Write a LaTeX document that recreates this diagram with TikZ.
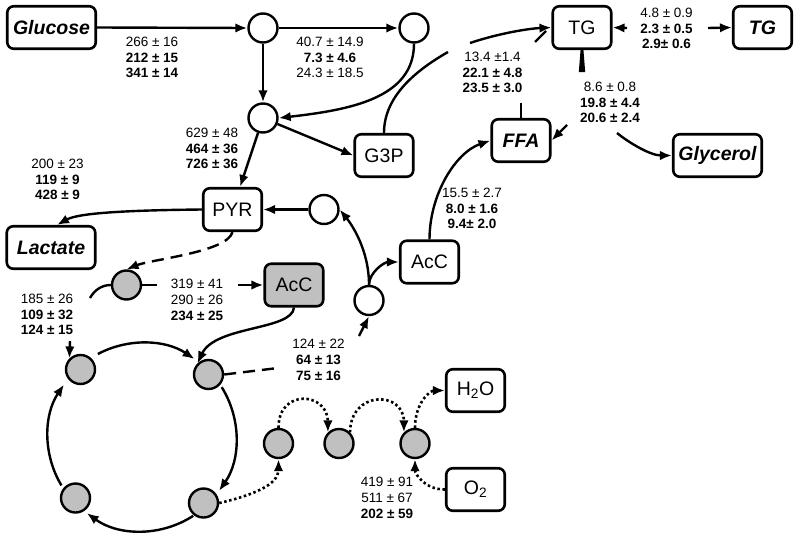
\documentclass[tikz,border=0pt]{standalone}
\usepackage{fontspec}
\setmainfont{Liberation Sans}
\usetikzlibrary{arrows.meta}
\definecolor{grayfill}{RGB}{192,192,192}
\begin{document}
\begin{tikzpicture}[x=1pt,y=1pt,
  box/.style={draw, line width=2.6pt, rounded corners=6.5pt, minimum width=58.5pt, minimum height=42.5pt, inner sep=1pt, font=\fontsize{19.5}{22}\selectfont},
  bigbox/.style={box, minimum width=88.5pt},
  bi/.style={font=\fontsize{19.5}{22}\selectfont\bfseries\itshape},
  circ/.style={circle, draw, line width=2.4pt, minimum size=29pt, inner sep=0pt},
  gcirc/.style={circ, fill=grayfill},
  lbl/.style={align=center, inner sep=0pt, font=\fontsize{13.5}{15.8}\selectfont},
  con/.style={line width=2.4pt, -{Latex[length=12pt,width=9.5pt]}},
  seg/.style={line width=2.4pt},
  dsh/.style={dash pattern=on 12pt off 7pt},
  dtt/.style={line width=2.6pt, dash pattern=on 2.5pt off 2.6pt},
]
\useasboundingbox (0,0) rectangle (800,-538);

% nodes
\node[bigbox,bi] (Glucose) at (51.5,-27.5) {Glucose};
\node[circ] (c1) at (263,-28) {};
\node[circ] (c2) at (414,-28) {};
\node[circ] (c3) at (263,-118) {};
\node[box] (G3P) at (384,-155.5) {G3P};
\node[box] (TG) at (582,-27.5) {TG};
\node[box,bi] (TGb) at (762.5,-27.5) {TG};
\node[box,bi] (FFA) at (521,-140.5) {FFA};
\node[bigbox,bi] (Glycerol) at (717.5,-155.5) {Glycerol};
\node[box] (PYR) at (232.5,-209.5) {PYR};
\node[bigbox,bi] (Lactate) at (51,-247.5) {Lactate};
\node[gcirc] (gA) at (126.5,-285) {};
\node[box,fill=grayfill] (AcCg) at (294,-285) {AcC};
\node[circ] (cE) at (324,-209.5) {};
\node[circ] (cD) at (369,-300.5) {};
\node[box] (AcCw) at (429.5,-262) {AcC};
\node[gcirc] (C1) at (80.5,-369.5) {};
\node[gcirc] (C2) at (208.5,-374.5) {};
\node[gcirc] (C3) at (203.5,-503) {};
\node[gcirc] (C4) at (75.5,-498) {};
\node[gcirc] (F) at (278.5,-443.5) {};
\node[gcirc] (G) at (339,-443.5) {};
\node[gcirc] (H) at (415,-443.5) {};
\node[box] (H2O) at (475.5,-390.5) {H\textsubscript{2}O};
\node[box] (O2) at (475.5,-489.5) {O\textsubscript{2}};

% free ends of broken connectors
\coordinate (O) at (142,-437);
\coordinate (g3pA) at (448,-52);
\coordinate (g3pB) at (470,-43);
\coordinate (ffaA) at (521,-103);
\coordinate (ffaB) at (535,-42);
\coordinate (ffaC) at (546,-31);
\coordinate (tgL) at (627,-28);
\coordinate (tgR) at (708,-28);
\coordinate (tgF) at (567,-125);
\coordinate (tgG) at (617,-133);
\coordinate (gaR) at (157,-285);
\coordinate (gaS) at (238,-285);
\coordinate (gaL) at (90,-298);
\coordinate (gaT) at (70,-341);
\coordinate (c2A) at (278,-368);
\coordinate (c2B) at (359,-336);

% glycolysis
\draw[con] (Glucose.east) -- (c1.west);
\draw[con] (c1.east) -- (c2.west);
\draw[con] (c1.south) -- (c3.north);
\draw[con] (c2.south) .. controls +(0,-55) and +(70,8) .. (c3.east);
\draw[con] (c3) -- (G3P.west);
\draw[con] (c3) -- (PYR);
\draw[seg] (G3P.north) .. controls +(0,35) and +(-35,-20) .. (g3pA);
\draw[con] (g3pB) .. controls +(30,10) and +(-22,-1) .. (TG.west);
\draw[seg] (FFA.north) -- (ffaA);
\draw[seg] (ffaB) -- (ffaC);
\draw[con] (tgL) -- (TG.east);
\draw[con] (tgR) -- (TGb.west);
\fill (580.6,-49.5) -- (583.4,-49.5) -- (585.2,-72) -- (578.8,-72) -- cycle;
\draw[con] (tgF) -- (FFA.east);
\draw[con] (tgG) .. controls +(11,-9) and +(-22,0) .. (Glycerol.west);
\draw[con] (PYR.west) .. controls +(-100,-1) and +(18,10) .. ([xshift=6pt]Lactate.north);
\draw[con] (cE.west) -- (PYR.east);
\draw[con] (cD.north) .. controls +(0,35) and +(12,-15) .. (cE.east);
\draw[con] (cD.north) .. controls +(0,12) and +(-15,0) .. (AcCw.west);
\draw[con] (AcCw.north) .. controls +(0,45) and +(-35,-12) .. (FFA.west);

% mitochondria
\draw[con,dsh] (PYR.south) .. controls +(-5,-20) and +(25,10) .. (gA.north);
\draw[seg] (gA.east) -- (gaR);
\draw[con] (gaS) -- (AcCg.west);
\draw[seg] (gA.west) .. controls +(-10,0) and +(4,7) .. (gaL);
\draw[con] (gaT) -- (C1.north west);
\draw[con] (AcCg.south) .. controls +(-2,-23) and +(18,38) .. (C2.north west);
\draw[seg,dsh] (C2.east) -- (c2A);
\draw[con,dsh] (c2B) -- (cD.south);

% cycle
\draw[con] ([shift={(118:94)}]O) arc[start angle=118, end angle=56, radius=94];
\draw[con] ([shift={(32:94)}]O) arc[start angle=32, end angle=-35, radius=94];
\draw[con] ([shift={(-57:94)}]O) arc[start angle=-57, end angle=-126, radius=94];
\draw[con] ([shift={(211:94)}]O) arc[start angle=211, end angle=146, radius=94];

% electron transport
\draw[con,dtt] (C3.east) .. controls +(35,8) and +(0,-25) .. (F.south);
\draw[con,dtt] (F.north) .. controls +(0,40) and +(0,40) .. (G.north west);
\draw[con,dtt] (G.north east) .. controls +(0,42) and +(0,42) .. (H.north west);
\draw[con,dtt] (H.north) .. controls +(0,25) and +(-15,0) .. (H2O.west);
\draw[con,dtt] (O2.west) .. controls +(-20,0) and +(0,-15) .. (H.south);

% labels
\node[lbl] (l1) at (152,-57.5) {266 ± 16\\\textbf{212 ± 15}\\\textbf{341 ± 14}};
\node[lbl] (l2) at (330,-57.5) {40.7 ± 14.9\\\textbf{7.3 ± 4.6}\\24.3 ± 18.5};
\node[lbl] (l3) at (212,-148.5) {629 ± 48\\\textbf{464 ± 36}\\\textbf{726 ± 36}};
\node[lbl] (l4) at (57.5,-179.5) {200 ± 23\\\textbf{119 ± 9}\\\textbf{428 ± 9}};
\node[lbl] (l5) at (492.5,-72.5) {13.4 ±1.4\\\textbf{22.1 ± 4.8}\\\textbf{23.5 ± 3.0}};
\node[lbl] (l6) at (666.5,-28.5) {4.8 ± 0.9\\\textbf{2.3 ± 0.5}\\\textbf{2.9± 0.6}};
\node[lbl] (l7) at (610,-102.5) {8.6 ± 0.8\\\textbf{19.8 ± 4.4}\\\textbf{20.6 ± 2.4}};
\node[lbl] (l8) at (472,-208.5) {15.5 ± 2.7\\\textbf{8.0 ± 1.6}\\\textbf{9.4± 2.0}};
\node[lbl] (l9) at (197,-300) {319 ± 41\\290 ± 26\\\textbf{234 ± 25}};
\node[lbl] (l10) at (47,-314.5) {185 ± 26\\\textbf{109 ± 32}\\\textbf{124 ± 15}};
\node[lbl] (l11) at (318.5,-360) {124 ± 22\\\textbf{64 ± 13}\\\textbf{75 ± 16}};
\node[lbl] (l12) at (387,-498) {419 ± 91\\511 ± 67\\\textbf{202 ± 59}};
\end{tikzpicture}
\end{document}
